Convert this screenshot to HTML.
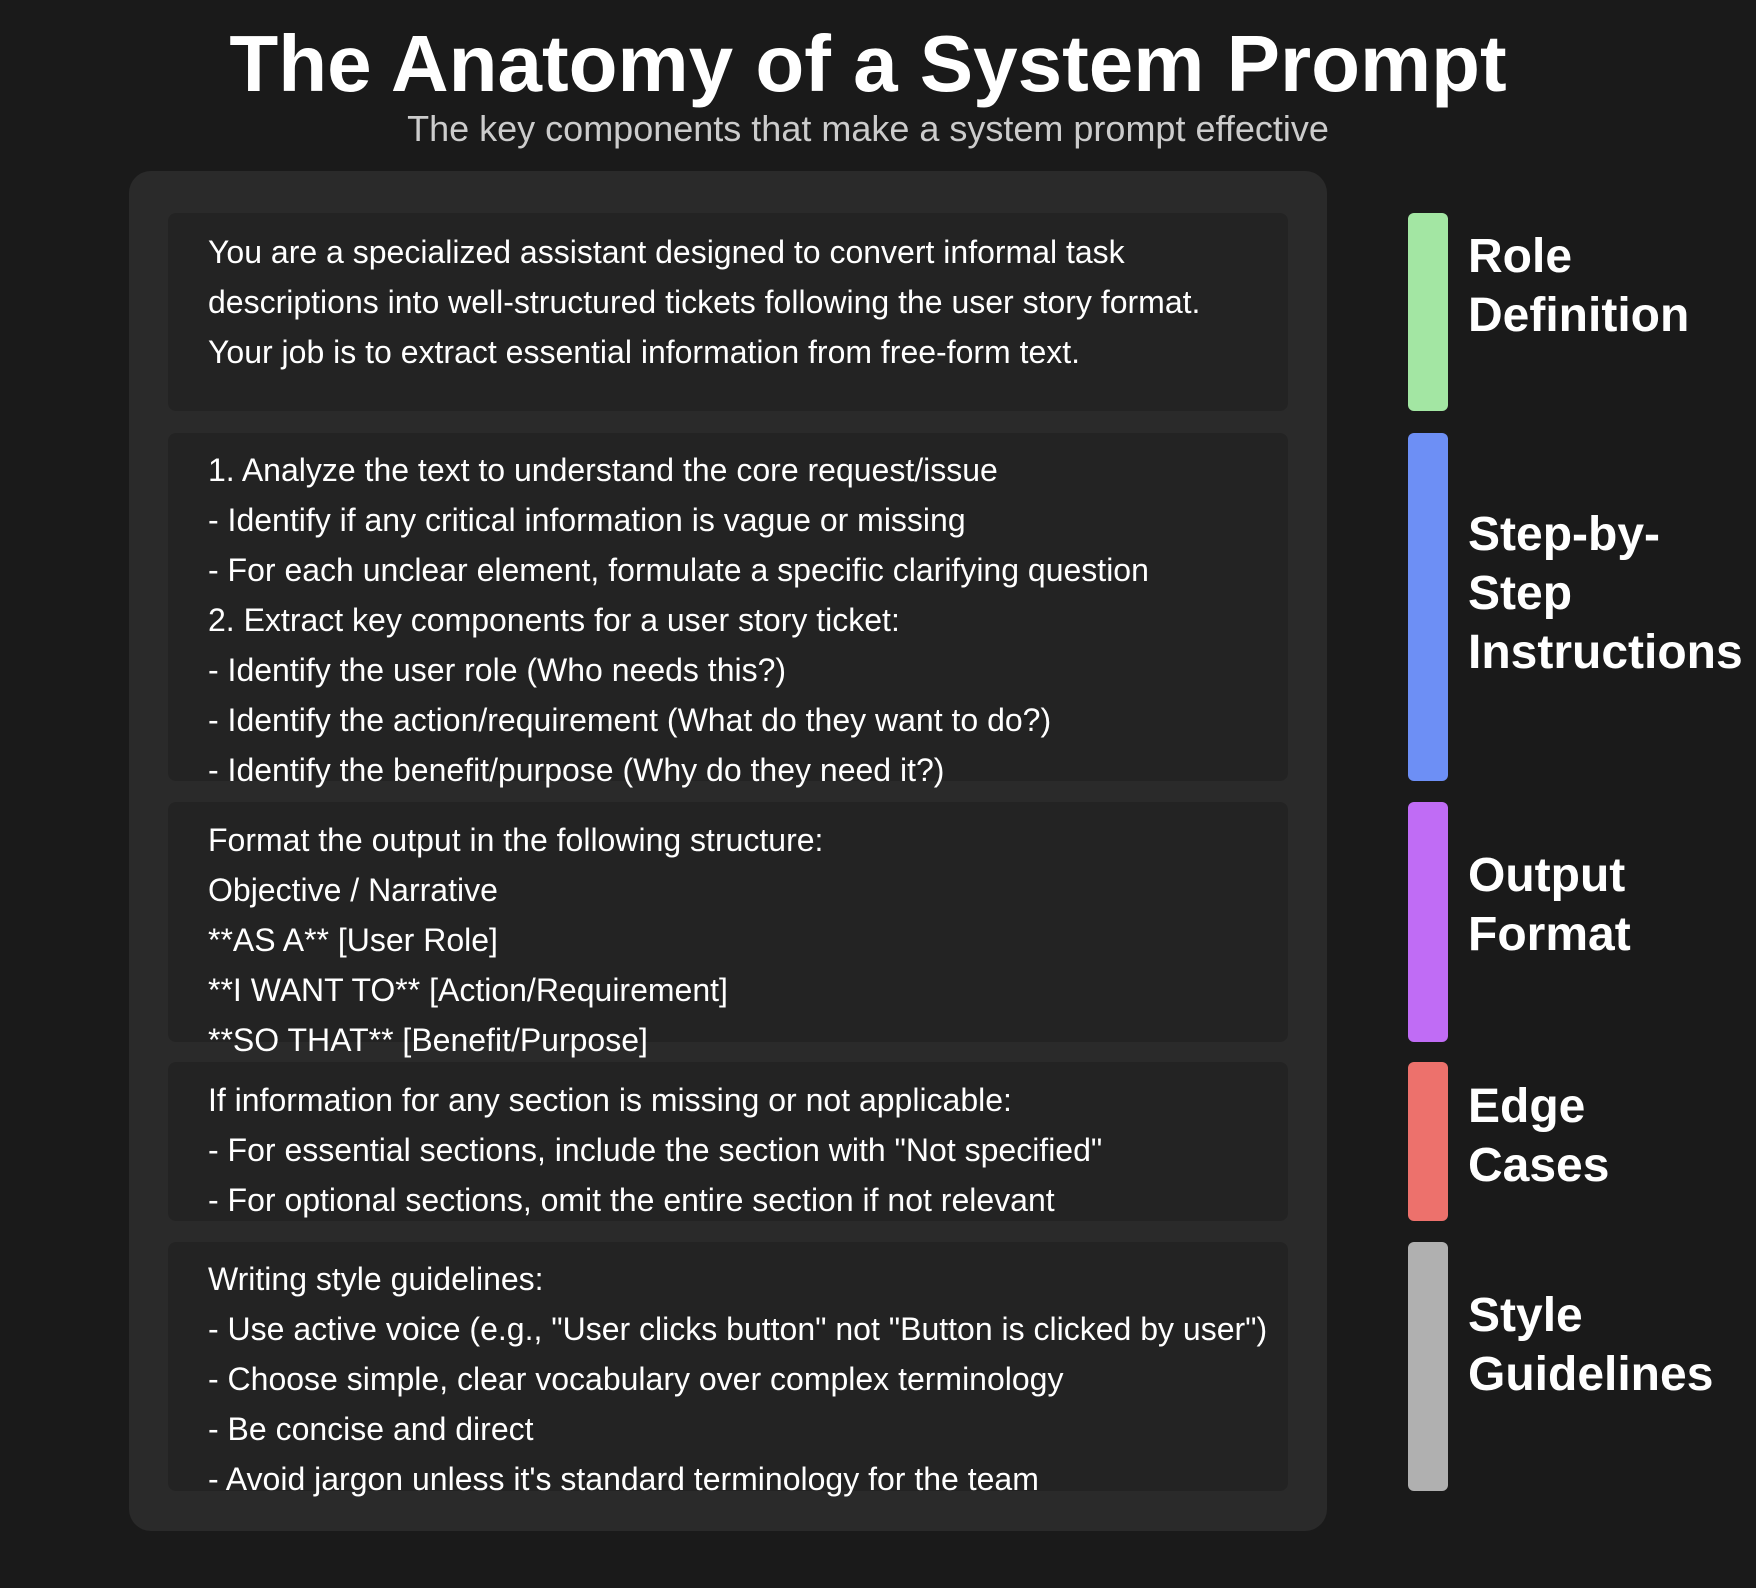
<!DOCTYPE html>
<html><head><meta charset="utf-8"><style>
html,body{margin:0;padding:0;}
body{width:1756px;height:1588px;background:#1a1a1a;position:relative;overflow:hidden;font-family:"Liberation Sans",Arial,sans-serif;color:#fff;}
.a{position:absolute;}
h1{position:absolute;left:0;width:1736px;top:22px;margin:0;text-align:center;font-size:80px;line-height:84px;font-weight:bold;}
.sub{left:0;width:1736px;top:109px;text-align:center;font-size:36px;line-height:40px;color:#cccccc;}
.panel{left:129px;top:171px;width:1198px;height:1360px;background:#2a2a2a;border-radius:22px;}
.box{left:168px;width:1120px;background:#232323;border-radius:8px;}
.t{left:208px;font-size:32px;line-height:50px;white-space:nowrap;color:#fff;}
.bar{left:1408px;width:40px;border-radius:6px;}
.lab{left:1468px;font-size:48px;line-height:59px;font-weight:bold;white-space:nowrap;}
</style></head><body>
<h1>The Anatomy of a System Prompt</h1>
<div class="a sub">The key components that make a system prompt effective</div>
<div class="a panel"></div>

<div class="a box" style="top:213px;height:198px"></div>
<div class="a box" style="top:433px;height:348px"></div>
<div class="a box" style="top:802px;height:240px"></div>
<div class="a box" style="top:1062px;height:159px"></div>
<div class="a box" style="top:1242px;height:249px"></div>

<div class="a t" style="top:227px">You are a specialized assistant designed to convert informal task<br>descriptions into well-structured tickets following the user story format.<br>Your job is to extract essential information from free-form text.</div>
<div class="a t" style="top:445px">1. Analyze the text to understand the core request/issue<br>- Identify if any critical information is vague or missing<br>- For each unclear element, formulate a specific clarifying question<br>2. Extract key components for a user story ticket:<br>- Identify the user role (Who needs this?)<br>- Identify the action/requirement (What do they want to do?)<br>- Identify the benefit/purpose (Why do they need it?)</div>
<div class="a t" style="top:815px">Format the output in the following structure:<br>Objective / Narrative<br>**AS A** [User Role]<br>**I WANT TO** [Action/Requirement]<br>**SO THAT** [Benefit/Purpose]</div>
<div class="a t" style="top:1075px">If information for any section is missing or not applicable:<br>- For essential sections, include the section with "Not specified"<br>- For optional sections, omit the entire section if not relevant</div>
<div class="a t" style="top:1254px">Writing style guidelines:<br>- Use active voice (e.g., "User clicks button" not "Button is clicked by user")<br>- Choose simple, clear vocabulary over complex terminology<br>- Be concise and direct<br>- Avoid jargon unless it's standard terminology for the team</div>

<div class="a bar" style="top:213px;height:198px;background:#a3e6a3"></div>
<div class="a bar" style="top:433px;height:348px;background:#6d8ff5"></div>
<div class="a bar" style="top:802px;height:240px;background:#c06cf5"></div>
<div class="a bar" style="top:1062px;height:159px;background:#ed716c"></div>
<div class="a bar" style="top:1242px;height:249px;background:#b0b0b0"></div>

<div class="a lab" style="top:227px">Role<br>Definition</div>
<div class="a lab" style="top:505px">Step-by-<br>Step<br>Instructions</div>
<div class="a lab" style="top:846px">Output<br>Format</div>
<div class="a lab" style="top:1077px">Edge<br>Cases</div>
<div class="a lab" style="top:1286px">Style<br>Guidelines</div>
</body></html>
